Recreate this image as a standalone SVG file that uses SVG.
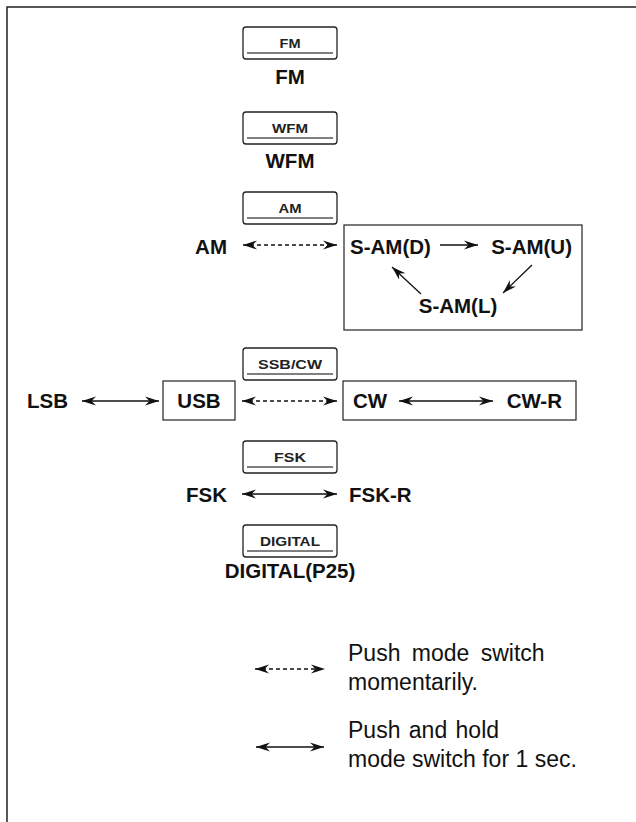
<svg xmlns="http://www.w3.org/2000/svg" width="636" height="822" viewBox="0 0 636 822">
<style>
.frame{fill:none;stroke:#222;stroke-width:1.5}
.btn{fill:#fff;stroke:#222;stroke-width:1.3}
.ul{stroke:#555;stroke-width:1.6}
.bt{font-family:"Liberation Sans",Arial,sans-serif;font-weight:bold;font-size:13px;fill:#222;text-anchor:middle}
.lb{font-family:"Liberation Sans",Arial,sans-serif;font-weight:bold;font-size:20.5px;fill:#111}
.box{fill:none;stroke:#222;stroke-width:1.2}
.lg{font-family:"Liberation Sans",Arial,sans-serif;font-size:23px;fill:#111}
.sol{stroke:#111;stroke-width:1.3;fill:none}
.dot{stroke:#111;stroke-width:1.3;fill:none;stroke-dasharray:4 3}
</style>
<defs>
<marker id="ah" viewBox="0 0 14 10" refX="14" refY="5" markerWidth="14" markerHeight="10" markerUnits="userSpaceOnUse" orient="auto-start-reverse">
<path d="M0,0.5 L14,5 L0,9.5 L4.5,5 Z" fill="#111"/>
</marker>
</defs>
<rect width="636" height="822" fill="#fff"/>
<path class="frame" d="M7,822 L7,7 L636,7"/>

<g id="btn-fm"><rect class="btn" x="243" y="27" width="94" height="32" rx="3"/><line class="ul" x1="247" y1="53" x2="333" y2="53"/><text class="bt" x="290" y="48" textLength="21" lengthAdjust="spacingAndGlyphs">FM</text></g>
<g id="btn-wfm"><rect class="btn" x="243" y="112" width="94" height="32" rx="3"/><line class="ul" x1="247" y1="138" x2="333" y2="138"/><text class="bt" x="290" y="133" textLength="36" lengthAdjust="spacingAndGlyphs">WFM</text></g>
<g id="btn-am"><rect class="btn" x="243" y="192" width="94" height="32" rx="3"/><line class="ul" x1="247" y1="218" x2="333" y2="218"/><text class="bt" x="290" y="213" textLength="23" lengthAdjust="spacingAndGlyphs">AM</text></g>
<g id="btn-ssbcw"><rect class="btn" x="243" y="348" width="94" height="32" rx="3"/><line class="ul" x1="247" y1="374" x2="333" y2="374"/><text class="bt" x="290" y="369" textLength="64" lengthAdjust="spacingAndGlyphs">SSB/CW</text></g>
<g id="btn-fsk"><rect class="btn" x="243" y="441" width="94" height="32" rx="3"/><line class="ul" x1="247" y1="467" x2="333" y2="467"/><text class="bt" x="290" y="462" textLength="32" lengthAdjust="spacingAndGlyphs">FSK</text></g>
<g id="btn-digital"><rect class="btn" x="243" y="525" width="94" height="32" rx="3"/><line class="ul" x1="247" y1="551" x2="333" y2="551"/><text class="bt" x="290" y="546" textLength="60" lengthAdjust="spacingAndGlyphs">DIGITAL</text></g>

<g id="fm"><text class="lb" x="290" y="84" text-anchor="middle">FM</text></g>
<g id="wfm"><text class="lb" x="290" y="168" text-anchor="middle">WFM</text></g>
<g id="am"><text class="lb" x="227" y="254" text-anchor="end">AM</text></g>
<g id="sam-box"><rect class="box" x="344" y="225" width="238" height="105"/></g>
<g id="sam-d"><text class="lb" x="350" y="254">S-AM(D)</text></g>
<g id="sam-u"><text class="lb" x="572" y="254" text-anchor="end">S-AM(U)</text></g>
<g id="sam-l"><text class="lb" x="458" y="313" text-anchor="middle">S-AM(L)</text></g>
<g id="lsb"><text class="lb" x="27" y="408">LSB</text></g>
<g id="usb"><rect class="box" x="163" y="381" width="72" height="39"/><text class="lb" x="199" y="408" text-anchor="middle">USB</text></g>
<g id="cw-box"><rect class="box" x="343" y="381" width="233" height="39"/></g>
<g id="cw"><text class="lb" x="353" y="408">CW</text></g>
<g id="cw-r"><text class="lb" x="562" y="408" text-anchor="end">CW-R</text></g>
<g id="fsk"><text class="lb" x="227" y="502" text-anchor="end">FSK</text></g>
<g id="fsk-r"><text class="lb" x="349" y="502">FSK-R</text></g>
<g id="digital"><text class="lb" x="290" y="578" text-anchor="middle">DIGITAL(P25)</text></g>

<g id="legend">
<text class="lg" x="348" y="661" word-spacing="5">Push mode switch</text>
<text class="lg" x="348" y="690">momentarily.</text>
<text class="lg" x="348" y="738" word-spacing="2">Push and hold</text>
<text class="lg" x="348" y="767">mode switch for 1 sec.</text>
</g>

<g id="connectors">
<line class="dot" x1="243" y1="245" x2="337" y2="245" marker-start="url(#ah)" marker-end="url(#ah)"/>
<line class="sol" x1="440" y1="245" x2="478" y2="245" marker-end="url(#ah)"/>
<line class="sol" x1="532" y1="265" x2="503" y2="293" marker-end="url(#ah)"/>
<line class="sol" x1="421" y1="294" x2="392" y2="267" marker-end="url(#ah)"/>
<line class="sol" x1="82" y1="401" x2="159" y2="401" marker-start="url(#ah)" marker-end="url(#ah)"/>
<line class="dot" x1="242" y1="401" x2="337" y2="401" marker-start="url(#ah)" marker-end="url(#ah)"/>
<line class="sol" x1="399" y1="401" x2="493" y2="401" marker-start="url(#ah)" marker-end="url(#ah)"/>
<line class="sol" x1="242" y1="494" x2="337" y2="494" marker-start="url(#ah)" marker-end="url(#ah)"/>
<line class="dot" x1="255" y1="669" x2="325" y2="669" marker-start="url(#ah)" marker-end="url(#ah)"/>
<line class="sol" x1="256" y1="747" x2="324" y2="747" marker-start="url(#ah)" marker-end="url(#ah)"/>
</g>
</svg>
